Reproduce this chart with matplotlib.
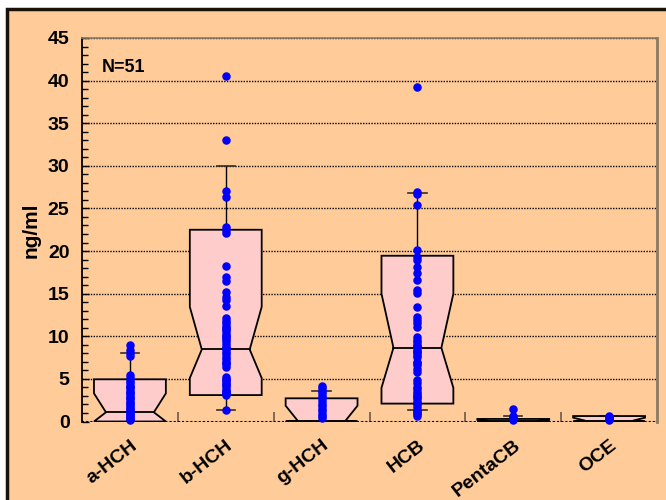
import matplotlib
matplotlib.use("Agg")
import matplotlib.pyplot as plt
from matplotlib.patches import Rectangle
from matplotlib.ticker import MultipleLocator

# categories and box statistics (ng/ml)
compounds = ["a-HCH", "b-HCH", "g-HCH", "HCB", "PentaCB", "OCE"]
q1 = [0.0, 3.1, 0.0, 2.1, 0.0, 0.0]
median = [1.08, 8.45, 0.1, 8.65, 0.05, 0.1]
q3 = [4.95, 22.5, 2.72, 19.45, 0.3, 0.64]
notch_lo = [0.0, 5.1, 0.0, 3.95, 0.0, 0.0]
notch_hi = [3.3, 13.45, 1.85, 15.0, 0.2, 0.45]
whisker_lo = [0.0, 1.4, 0.0, 1.3, 0.0, 0.0]
whisker_hi = [8.0, 30.0, 3.6, 26.8, 0.65, 0.64]

# individual samples
a_hch = [9.0, 8.4, 8.0, 7.7, 5.4, 5.1, 4.8, 4.5, 4.2, 3.9, 3.6, 3.3, 3.0, 2.7,
         2.4, 2.1, 1.8, 1.5, 1.2, 0.9, 0.6, 0.3, 4.0, 3.4, 2.8, 2.2, 1.6, 1.0, 0.5, 0.2]
b_hch = [40.5, 33.0, 27.1, 26.4, 22.8, 22.5, 22.1, 18.2, 16.9, 16.5, 15.2, 14.6,
         14.2, 13.6, 12.1, 11.8, 11.5, 11.2, 10.9, 10.6, 10.3, 10.0, 9.7, 9.4, 9.1,
         8.8, 8.5, 8.2, 7.6, 7.3, 7.0, 6.7, 6.4, 5.2, 4.9, 4.6, 4.3, 4.0, 3.7, 3.4,
         3.1, 1.4, 11.0, 9.9, 8.6, 7.9, 6.9, 5.0, 4.4, 3.6, 3.3]
g_hch = [4.2, 3.9, 3.6, 3.3, 3.0, 2.7, 2.4, 2.1, 1.8, 1.5, 1.2, 0.9, 0.6, 0.4]
hcb = [39.2, 26.9, 26.7, 25.4, 20.1, 19.3, 18.9, 18.1, 17.4, 16.6, 15.4, 15.1,
       13.4, 12.3, 11.9, 11.5, 11.1, 9.9, 9.6, 9.3, 9.0, 8.7, 8.4, 8.1, 7.8, 7.6,
       7.0, 6.6, 6.2, 5.8, 4.9, 4.1, 3.8, 3.5, 3.2, 2.9, 2.6, 2.3, 2.0, 1.7, 1.4,
       1.0, 0.7, 8.9, 8.2, 6.9, 4.5, 3.0, 2.2, 1.2, 0.9]
penta_cb = [1.5, 0.7, 0.5, 0.3, 0.2]
oce = [0.6, 0.5, 0.4, 0.3, 0.2]
samples = [a_hch, b_hch, g_hch, hcb, penta_cb, oce]

PEACH = "#FFCC99"
PINK = "#FFCCCC"
BOX_HALF = 0.375
NOTCH_HALF = 0.25
CAP_HALF = 0.095

plt.rcParams["font.family"] = ["Liberation Sans", "DejaVu Sans"]
plt.rcParams["font.weight"] = "bold"

fig = plt.figure(figsize=(6.66, 5), dpi=100, facecolor="white")
fig.patches.append(Rectangle((7 / 666, -0.1), 1.2, 491 / 500 + 0.1,
                             transform=fig.transFigure, facecolor=PEACH,
                             edgecolor="#1a1208", lw=2.5, zorder=-5))
ax = fig.add_axes([82 / 666, 78.5 / 500, 575 / 666, 383.5 / 500])
ax.set_facecolor(PEACH)

for i, vals in enumerate(samples):
    # whiskers and caps
    ax.plot([i, i], [q3[i], whisker_hi[i]], color="black", lw=1, zorder=2)
    ax.plot([i, i], [whisker_lo[i], q1[i]], color="black", lw=1, zorder=2)
    for w in (whisker_lo[i], whisker_hi[i]):
        if w > 0:
            ax.plot([i - CAP_HALF, i + CAP_HALF], [w, w], color="#3a2e22", lw=1.2, zorder=2)
    # notched box
    xs = [i - BOX_HALF, i - BOX_HALF, i - NOTCH_HALF, i - BOX_HALF, i - BOX_HALF,
          i + BOX_HALF, i + BOX_HALF, i + NOTCH_HALF, i + BOX_HALF, i + BOX_HALF]
    ys = [q1[i], notch_lo[i], median[i], notch_hi[i], q3[i],
          q3[i], notch_hi[i], median[i], notch_lo[i], q1[i]]
    ax.fill(xs, ys, facecolor=PINK, edgecolor="black", lw=1.3, zorder=3)
    ax.plot([i - NOTCH_HALF, i + NOTCH_HALF], [median[i], median[i]], color="black", lw=1.3, zorder=3)
    ax.scatter([i] * len(vals), vals, s=26, color="#0000FF", zorder=5, clip_on=False)

ax.set_xlim(-0.5, 5.5)
ax.set_ylim(0, 45)
ax.yaxis.set_major_locator(MultipleLocator(5))
ax.yaxis.set_minor_locator(MultipleLocator(1))
ax.grid(axis="y", which="major", linestyle=(0, (1, 1)), color="black", lw=1, zorder=1)
ax.set_axisbelow(True)
ax.tick_params(axis="y", which="major", direction="in", length=5, width=1,
               labelsize=14, pad=9)
ax.tick_params(axis="y", which="minor", direction="in", length=4, width=1)
ax.set_xticks(range(len(compounds)))
ax.set_xticklabels(compounds, rotation=38, ha="right", rotation_mode="anchor", fontsize=14)
ax.set_xticks([0.5, 1.5, 2.5, 3.5, 4.5], minor=True)
ax.tick_params(axis="x", which="major", length=0, pad=11)
ax.tick_params(axis="x", which="minor", direction="in", length=7, width=1.2, color="#6b5a4a")
ax.set_ylabel("ng/ml", fontsize=15, fontweight="bold", labelpad=5)

ax.spines["left"].set_color("black")
ax.spines["left"].set_linewidth(1.3)
ax.spines["right"].set_color("#8a7a66")
ax.spines["right"].set_linewidth(2)
ax.spines["top"].set_color("#8a7a66")
ax.spines["top"].set_linewidth(1.2)
ax.spines["bottom"].set_visible(False)
ax.axhline(0, color="black", lw=1.5, linestyle=(0, (1, 1)), zorder=4)

ax.text(0.035, 0.945, "N=51", transform=ax.transAxes, fontsize=13,
        fontweight="bold", va="top", ha="left")

fig.savefig("out.png", dpi=100, facecolor=fig.get_facecolor())
